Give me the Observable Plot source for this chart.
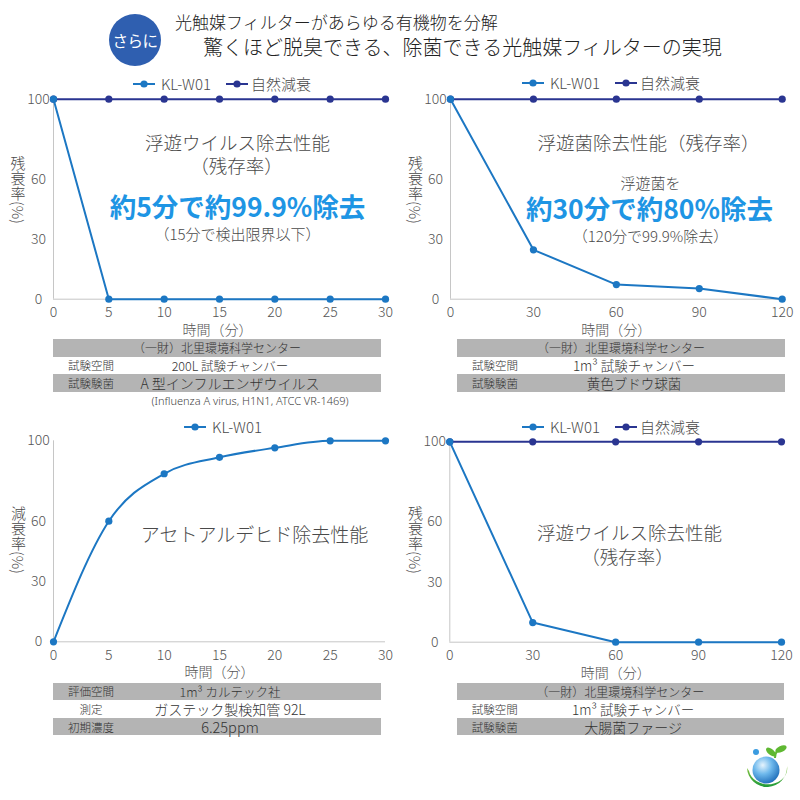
<!DOCTYPE html>
<html>
<head>
<meta charset="utf-8">
<script src="https://cdn.jsdelivr.net/npm/d3@7"></script>
<script src="https://cdn.jsdelivr.net/npm/@observablehq/plot@0.6"></script>
<style>
html, body { margin: 0; padding: 0; background: #fff; }
#page { position: relative; width: 800px; height: 800px; overflow: hidden;
  font-family: "Noto Sans CJK JP", "Noto Sans", sans-serif; color: #3a3a3a; font-weight: 300; }
#page div { box-sizing: border-box; }
</style>
</head>
<body>
<div id="page"></div>
<script>
// ---------------- data ----------------
const yTicks = [0, 30, 60, 100];
const ticks30 = [0, 5, 10, 15, 20, 25, 30];
const ticks120 = [0, 30, 60, 90, 120];
const seriesNames = ["KL-W01", "自然減衰"];

const virusMinutes = [0, 5, 10, 15, 20, 25, 30];
const virusKL = [100, 0, 0, 0, 0, 0, 0];
const virusNatural = [100, 100, 100, 100, 100, 100, 100];

const bacteriaMinutes = [0, 30, 60, 90, 120];
const bacteriaKL = [100, 24.7, 7.3, 5.3, 0];
const bacteriaNatural = [100, 100, 100, 100, 100];

const acetMinutes = [0, 5, 10, 15, 20, 25, 30];
const acetKL = [0, 60, 83.6, 91.8, 96.5, 100, 100];

const phageMinutes = [0, 30, 60, 90, 120];
const phageKL = [100, 9.8, 0, 0, 0];
const phageNatural = [100, 100, 100, 100, 100];

// ---------------- texts ----------------
const badgeText = "さらに";
const headerLines = ["光触媒フィルターがあらゆる有機物を分解", "驚くほど脱臭できる、除菌できる光触媒フィルターの実現"];
const xLabel = "時間（分）";
const yLabelRemain = "残衰率(%)";
const yLabelDecay = "減衰率(%)";
const notes1 = ["浮遊ウイルス除去性能", "（残存率）", "約5分で約99.9%除去", "（15分で検出限界以下）"];
const notes2 = ["浮遊菌除去性能（残存率）", "浮遊菌を", "約30分で約80%除去", "（120分で99.9%除去）"];
const notes3 = ["アセトアルデヒド除去性能"];
const notes4 = ["浮遊ウイルス除去性能", "（残存率）"];
const table1Rows = [["", "（一財）北里環境科学センター"], ["試験空間", "200L 試験チャンバー"], ["試験験菌", "A 型インフルエンザウイルス"]];
const table1Note = "(Influenza A virus, H1N1, ATCC VR-1469)";
const table2Rows = [["", "（一財）北里環境科学センター"], ["試験空間", "1m³ 試験チャンバー"], ["試験験菌", "黄色ブドウ球菌"]];
const table3Rows = [["評価空間", "1m³ カルテック社"], ["測定", "ガステック製検知管 92L"], ["初期濃度", "6.25ppm"]];
const table4Rows = [["", "（一財）北里環境科学センター"], ["試験空間", "1m³ 試験チャンバー"], ["試験験菌", "大腸菌ファージ"]];

// ---------------- styles ----------------
const FONT = '"Noto Sans CJK JP", "Noto Sans", sans-serif';
const KL_COLOR = "#1c77c3";
const NAT_COLOR = "#2a3591";
const BIG_BLUE = "#1e95e4";
const AXIS_GRAY = "#c6c6c6";
const TEXT_GRAY = "#4a4a4a";
const TABLE_GRAY = "#b4b4b4";

const page = document.getElementById("page");
function el(css, html) {
  const e = document.createElement("div");
  Object.assign(e.style, {position: "absolute"}, css);
  if (html != null) e.innerHTML = html;
  page.appendChild(e);
  return e;
}

// ---------------- header ----------------
el({left: "109px", top: "14px", width: "52px", height: "52px", borderRadius: "50%", background: "#2f5fb0",
    color: "#fff", fontSize: "15.5px", display: "flex", alignItems: "center", justifyContent: "center",
    fontWeight: "400", letterSpacing: "-0.5px"}, badgeText);
el({left: "175px", top: "11px", fontSize: "17px", lineHeight: "22px", color: "#222", whiteSpace: "nowrap", fontWeight: "300"}, headerLines[0]);
el({left: "203px", top: "34px", fontSize: "20px", lineHeight: "26px", color: "#222", whiteSpace: "nowrap", fontWeight: "300"}, headerLines[1]);

// ---------------- panels ----------------
function drawPanel(cfg) {
  const {left, top, width, height, mL, mR, mT, mB, domain, ticks, series, curve, notes} = cfg;
  const frameCX = mL + (width - mL - mR) / 2;
  const marks = [
    Plot.ruleY([0], {stroke: AXIS_GRAY, strokeWidth: 1}),
    Plot.ruleX([0], {stroke: AXIS_GRAY, strokeWidth: 1}),
    Plot.axisY({ticks: yTicks, tickSize: 0, tickPadding: 15, textAnchor: "middle", label: null, fontSize: 14, fill: "#555"}),
    Plot.axisX({ticks, tickSize: 0, tickPadding: 8, label: null, fontSize: 14, fill: "#555"}),
    Plot.text([xLabel], {frameAnchor: "bottom", dx: cfg.xLabelDx || 0, dy: 31, fontSize: 14, fill: "#555", lineAnchor: "middle"})
  ];
  for (const s of series) {
    const rows = s.x.map((x, i) => ({minute: x, value: s.y[i]}));
    marks.push(Plot.line(rows, {x: "minute", y: "value", stroke: s.color, strokeWidth: 2, curve: curve || "linear"}));
    marks.push(Plot.dot(rows, {x: "minute", y: "value", fill: s.color, r: 3.6}));
  }
  for (const n of notes) {
    marks.push(Plot.text([n.t], {frameAnchor: "top", dx: n.cx - left - frameCX, dy: n.cy - top - mT,
      fontSize: n.size, fontWeight: n.weight || 300, fill: n.color || TEXT_GRAY, lineAnchor: "middle"}));
  }
  const svg = Plot.plot({
    width, height, marginLeft: mL, marginRight: mR, marginTop: mT, marginBottom: mB,
    x: {domain}, y: {domain: [0, 100]},
    style: {fontFamily: FONT, fontWeight: 300, overflow: "visible", background: "transparent"},
    marks
  });
  svg.style.position = "absolute";
  svg.style.left = left + "px";
  svg.style.top = top + "px";
  page.appendChild(svg);
}

function legend(cx, cy, items) {
  const html = items.map(([name, color], i) =>
    `<span style="display:inline-flex;align-items:center;margin-left:${i ? 15 : 0}px">` +
    `<svg width="22" height="10" style="display:block"><line x1="0" y1="5" x2="22" y2="5" stroke="${color}" stroke-width="2"/>` +
    `<circle cx="11" cy="5" r="3.6" fill="${color}"/></svg>` +
    `<span style="margin-left:${i ? 3 : 6}px">${name}</span></span>`).join("");
  el({left: cx + "px", top: cy + "px", transform: "translate(-50%,-50%)", display: "flex", alignItems: "center",
      whiteSpace: "nowrap", fontSize: "15px", lineHeight: "18px", color: TEXT_GRAY, fontWeight: "300"}, html);
}

function yLabel(cx, topY, text) {
  el({left: (cx - 9) + "px", top: topY + "px", width: "18px", writingMode: "vertical-rl", textOrientation: "mixed",
      fontSize: "15px", lineHeight: "18px", color: TEXT_GRAY, fontWeight: "300", whiteSpace: "nowrap"}, text);
}

function table(left, top, width, rows, sizes) {
  const rowH = 17.6, labelW = 76, padR = 50;
  rows.forEach(([label, value], i) => {
    const row = el({left: left + "px", top: (top + i * rowH) + "px", width: width + "px", height: rowH + "px",
      background: i % 2 === 0 ? TABLE_GRAY : "#fff", color: "#333"});
    if (label === "") {
      row.innerHTML = `<div style="position:absolute;left:0;right:0;top:0;bottom:0;display:flex;align-items:center;justify-content:center;font-size:${sizes[i]}px;white-space:nowrap">${value}</div>`;
    } else {
      row.innerHTML =
        `<div style="position:absolute;left:0;width:${labelW}px;top:0;bottom:0;display:flex;align-items:center;justify-content:center;font-size:${sizes.label}px;white-space:nowrap">${label}</div>` +
        `<div style="position:absolute;left:${labelW}px;right:${padR}px;top:0;bottom:0;display:flex;align-items:center;justify-content:center;font-size:${sizes[i]}px;white-space:nowrap">${value}</div>`;
    }
  });
}

// Panel 1: airborne virus (30 min)
drawPanel({
  left: 0, top: 70, width: 400, height: 265, mL: 53, mR: 15, mT: 28.7, mB: 36.3,
  domain: [0, 30], ticks: ticks30, xLabelDx: -2,
  series: [
    {x: virusMinutes, y: virusNatural, color: NAT_COLOR},
    {x: virusMinutes, y: virusKL, color: KL_COLOR}
  ],
  notes: [
    {t: notes1[0], cx: 237, cy: 144, size: 18.5},
    {t: notes1[1], cx: 236, cy: 167, size: 18.5},
    {t: notes1[2], cx: 237, cy: 208, size: 26.5, weight: 700, color: BIG_BLUE},
    {t: notes1[3], cx: 237, cy: 235, size: 15}
  ]
});
legend(222, 84, [[seriesNames[0], KL_COLOR], [seriesNames[1], NAT_COLOR]]);
yLabel(17.5, 156, yLabelRemain);
table(53, 339, 328, table1Rows, {label: 11.5, 0: 12, 1: 12.5, 2: 14});
el({left: "250px", top: "400px", transform: "translate(-50%,-50%)", fontSize: "11px", color: "#444",
    whiteSpace: "nowrap", fontFamily: '"Noto Sans", sans-serif', fontWeight: "300"}, table1Note);

// Panel 2: airborne bacteria (120 min)
drawPanel({
  left: 400, top: 70, width: 400, height: 265, mL: 50, mR: 18.3, mT: 28.7, mB: 36.3,
  domain: [0, 120], ticks: ticks120,
  series: [
    {x: bacteriaMinutes, y: bacteriaNatural, color: NAT_COLOR},
    {x: bacteriaMinutes, y: bacteriaKL, color: KL_COLOR}
  ],
  notes: [
    {t: notes2[0], cx: 648, cy: 144, size: 18.5},
    {t: notes2[1], cx: 650, cy: 184, size: 15},
    {t: notes2[2], cx: 649, cy: 210, size: 26.5, weight: 700, color: BIG_BLUE},
    {t: notes2[3], cx: 650, cy: 237, size: 15}
  ]
});
legend(611, 83, [[seriesNames[0], KL_COLOR], [seriesNames[1], NAT_COLOR]]);
yLabel(415, 156, yLabelRemain);
table(457, 339, 328, table2Rows, {label: 11.5, 0: 12, 1: 13.5, 2: 13.5});

// Panel 3: acetaldehyde (30 min)
drawPanel({
  left: 0, top: 410, width: 400, height: 270, mL: 53, mR: 15, mT: 30.3, mB: 38.7,
  domain: [0, 30], ticks: ticks30, curve: "monotone-x",
  series: [
    {x: acetMinutes, y: acetKL, color: KL_COLOR}
  ],
  notes: [
    {t: notes3[0], cx: 254, cy: 535, size: 19}
  ]
});
legend(223, 427, [[seriesNames[0], KL_COLOR]]);
yLabel(18, 506, yLabelDecay);
table(53, 682.7, 328, table3Rows, {label: 11.5, 0: 12.5, 1: 14, 2: 14.5});

// Panel 4: airborne virus (120 min)
drawPanel({
  left: 400, top: 410, width: 400, height: 270, mL: 49.3, mR: 19, mT: 31.3, mB: 38.3,
  domain: [0, 120], ticks: ticks120,
  series: [
    {x: phageMinutes, y: phageNatural, color: NAT_COLOR},
    {x: phageMinutes, y: phageKL, color: KL_COLOR}
  ],
  notes: [
    {t: notes4[0], cx: 629, cy: 534, size: 18.5},
    {t: notes4[1], cx: 627, cy: 558, size: 18.5}
  ]
});
legend(611, 427, [[seriesNames[0], KL_COLOR], [seriesNames[1], NAT_COLOR]]);
yLabel(415, 506, yLabelRemain);
table(456.7, 682.7, 327, table4Rows, {label: 11.5, 0: 12, 1: 13.5, 2: 14});

// ---------------- logo (decoration) ----------------
el({left: "742px", top: "744px", width: "50px", height: "52px"},
  `<svg width="50" height="52" viewBox="0 0 50 52">
    <defs>
      <radialGradient id="lg" cx="0.38" cy="0.32" r="0.75">
        <stop offset="0" stop-color="#e6f4fd"/>
        <stop offset="0.45" stop-color="#6db8ec"/>
        <stop offset="1" stop-color="#1867b5"/>
      </radialGradient>
      <linearGradient id="gg" x1="0" y1="0" x2="0" y2="1">
        <stop offset="0" stop-color="#8cc63f"/>
        <stop offset="1" stop-color="#1f9a3a"/>
      </linearGradient>
    </defs>
    <path d="M5 24 A20 20 0 0 0 45 22 A17 14 0 0 1 7 27 Z" fill="url(#gg)"/>
    <circle cx="24" cy="26" r="13.5" fill="url(#lg)"/>
    <circle cx="14" cy="8" r="3" fill="#3a9be0"/>
    <ellipse cx="29" cy="8" rx="6" ry="3" transform="rotate(40 29 8)" fill="#5fb832"/>
    <ellipse cx="39" cy="5" rx="6" ry="3" transform="rotate(-25 39 5)" fill="#5fb832"/>
    <path d="M33 14 Q33 9 36 6" stroke="#5fb832" stroke-width="2" fill="none"/>
  </svg>`);
</script>
</body>
</html>
